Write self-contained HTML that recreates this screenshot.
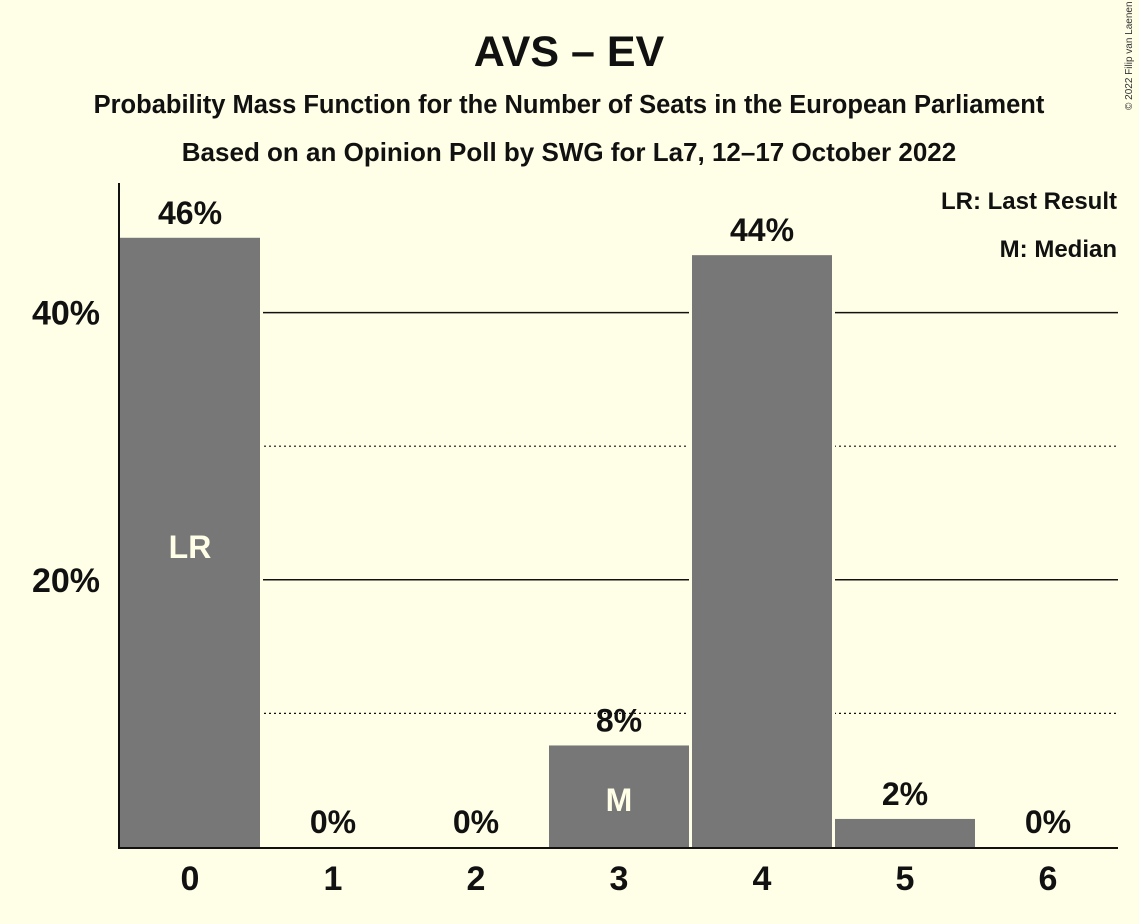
<!DOCTYPE html>
<html><head><meta charset="utf-8"><style>
body{margin:0;background:#fffee6;}
svg{display:block;font-family:"Liberation Sans",sans-serif;}
</style></head><body>
<svg id="c" width="1139" height="924">
<rect width="1139" height="924" fill="#fffee6"/>
<text x="569" y="66" text-anchor="middle" font-size="43" font-weight="bold" fill="#111">AVS – EV</text>
<text x="569" y="113" text-anchor="middle" font-size="25.5" font-weight="bold" fill="#111">Probability Mass Function for the Number of Seats in the European Parliament</text>
<text x="569" y="161" text-anchor="middle" font-size="26" font-weight="bold" fill="#111">Based on an Opinion Poll by SWG for La7, 12–17 October 2022</text>
<text x="1132" y="110" font-size="10" fill="#333" transform="rotate(-90 1132 110)">© 2022 Filip van Laenen</text>
<text x="1117" y="209" text-anchor="end" font-size="24" font-weight="bold" fill="#111">LR: Last Result</text>
<text x="1117" y="257" text-anchor="end" font-size="24" font-weight="bold" fill="#111">M: Median</text>
<g id="grid"></g><g id="bars"></g><g id="labels"></g>
<line x1="119" y1="183" x2="119" y2="848" stroke="#111" stroke-width="2"/>
<line x1="118" y1="848" x2="1118" y2="848" stroke="#111" stroke-width="2"/>
</svg>
<script>
const categories=[0,1,2,3,4,5,6];
const values=[45.6,0,0,7.6,44.3,2.1,0];
const valueLabels=["46%","0%","0%","8%","44%","2%","0%"];
const markers=["LR","","","M","","",""];
const gridValues=[10,20,30,40];
const tickValues=[20,40];
const tickLabels=["20%","40%"];
const NS="http://www.w3.org/2000/svg";
const y=v=>847-v*13.36;
const x=i=>190+i*143;
function mk(t,a,p){const e=document.createElementNS(NS,t);for(const k in a)e.setAttribute(k,a[k]);document.getElementById(p).appendChild(e);return e;}
gridValues.forEach(g=>{
 const l=mk('line',{x1:119,x2:1118,y1:y(g),y2:y(g),stroke:'#111','stroke-width':g%20?1.2:1.5},'grid');
 if(g%20)l.setAttribute('stroke-dasharray','2,3');
 
 
});
tickValues.forEach((t,i)=>{
 const e=mk('text',{x:100,y:y(t)+12,'text-anchor':'end','font-size':34,'font-weight':'bold',fill:'#111'},'labels');
 e.textContent=tickLabels[i];
 
 
});
categories.forEach((c,i)=>{
 const v=values[i];
 if(v>0){
  const bg=mk('rect',{x:x(i)-73,y:y(v)-2,width:146,height:847-y(v)+2,fill:'#fffee6'},'bars');
  
  
  const r=mk('rect',{x:x(i)-70,y:y(v),width:140,height:847-y(v),fill:'#777'},'bars');
  
  
 }
 const t=mk('text',{x:x(i),y:y(v)-14,'text-anchor':'middle','font-size':32,'font-weight':'bold',fill:'#111'},'labels');
 t.textContent=valueLabels[i];
 
 
 const xl=mk('text',{x:x(i),y:890,'text-anchor':'middle','font-size':34,'font-weight':'bold',fill:'#111'},'labels');
 xl.textContent=c;
 
 
 if(markers[i]){
  const m=mk('text',{x:x(i),y:markers[i]=='LR'?558:811,'text-anchor':'middle','font-size':32,'font-weight':'bold',fill:'#fffee6'},'labels');
  m.textContent=markers[i];
  
  
 }
});
</script>
</body></html>
